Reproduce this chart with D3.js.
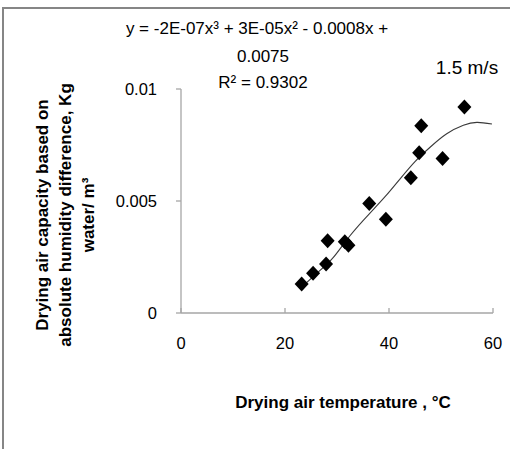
<!DOCTYPE html>
<html>
<head>
    <meta charset="utf-8">
    <title>Drying air capacity vs temperature</title>
    <script src="https://d3js.org/d3.v7.min.js"></script>
    <style>
        body { margin: 0; background: #fff; }
        text { font-family: "Liberation Sans", Arial, sans-serif; fill: #000; }
    </style>
</head>
<body>
<svg width="510" height="449"></svg>
<script>
    // data
    const temps = [23.2, 25.4, 27.9, 28.2, 31.5, 32.2, 36.2, 39.4, 44.2, 45.8, 46.2, 50.3, 54.5];
    const capacity = [0.00129, 0.00177, 0.00219, 0.00322, 0.00318, 0.00303, 0.00489, 0.00418, 0.00604, 0.00715, 0.00836, 0.0069, 0.0092];
    // polynomial trendline as drawn (the printed coefficients are rounded)
    const trendX = [23.5, 26.5, 29.3, 32.5, 36.3, 39.2, 42.1, 45.0, 47.9, 51.1, 54.3, 56.9, 59.8];
    const trendY = [0.00122, 0.00185, 0.00248, 0.00345, 0.00445, 0.00518, 0.00598, 0.00676, 0.00740, 0.00800, 0.00838, 0.00851, 0.00844];
    const xTicks = [0, 20, 40, 60];
    const yTicks = [0, 0.005, 0.01];
    const eqLines = ["y = -2E-07x³ + 3E-05x² - 0.0008x +", "0.0075", "R² = 0.9302"];
    const yTitle = ["Drying air capacity based on", "absolute humidity difference, Kg", "water/ m³"];

    const svg = d3.select("svg");

    // outer chart border (only left and top visible in the window)
    svg.append("rect")
        .attr("x", 3).attr("y", 8)
        .attr("width", 600).attr("height", 600)
        .attr("fill", "none")
        .attr("stroke", "#868686")
        .attr("stroke-width", 2);

    const x = d3.scaleLinear().domain([0, 60]).range([181, 493]);
    const y = d3.scaleLinear().domain([0, 0.01]).range([313, 89]);

    const g = svg.append("g");

    // axes
    g.append("line")
        .attr("x1", x(0)).attr("x2", x(60))
        .attr("y1", y(0)).attr("y2", y(0))
        .attr("stroke", "#a6a6a6").attr("stroke-width", 1.3);
    g.append("line")
        .attr("x1", x(0)).attr("x2", x(0))
        .attr("y1", y(0)).attr("y2", y(0.01))
        .attr("stroke", "#a6a6a6").attr("stroke-width", 1.3);

    g.selectAll(".xtick").data(xTicks).enter().append("line")
        .attr("class", "xtick")
        .attr("x1", d => x(d)).attr("x2", d => x(d))
        .attr("y1", y(0)).attr("y2", y(0) - 5)
        .attr("stroke", "#a6a6a6").attr("stroke-width", 1.3);
    g.selectAll(".ytick").data(yTicks).enter().append("line")
        .attr("class", "ytick")
        .attr("x1", x(0) - 5).attr("x2", x(0))
        .attr("y1", d => y(d)).attr("y2", d => y(d))
        .attr("stroke", "#a6a6a6").attr("stroke-width", 1.3);

    g.selectAll(".xlab").data(xTicks).enter().append("text")
        .attr("class", "xlab")
        .attr("x", d => x(d)).attr("y", y(0) + 36)
        .attr("text-anchor", "middle")
        .attr("font-size", 16.5)
        .text(d => d);
    g.selectAll(".ylab").data(yTicks).enter().append("text")
        .attr("class", "ylab")
        .attr("x", x(0) - 24).attr("y", d => y(d) + 6)
        .attr("text-anchor", "end")
        .attr("font-size", 16.5)
        .text(d => d);

    // trendline
    g.append("path")
        .datum(trendX.map((t, i) => [t, trendY[i]]))
        .attr("fill", "none")
        .attr("stroke", "#3a3a3a")
        .attr("stroke-width", 1.1)
        .attr("d", d3.line().curve(d3.curveNatural).x(d => x(d[0])).y(d => y(d[1])));

    // diamonds
    g.selectAll(".pt").data(temps).enter().append("path")
        .attr("class", "pt")
        .attr("transform", (d, i) => `translate(${x(d)},${y(capacity[i])})`)
        .attr("d", "M0,-7.5L7,0L0,7.5L-7,0Z")
        .attr("fill", "#000");

    // equation text
    g.selectAll(".eq").data(eqLines).enter().append("text")
        .attr("class", "eq")
        .attr("x", (d, i) => i === 0 ? 257 : 263)
        .attr("y", (d, i) => [34, 62, 88][i])
        .attr("text-anchor", "middle")
        .attr("font-size", 17)
        .text(d => d);

    g.append("text")
        .attr("x", 467).attr("y", 74)
        .attr("text-anchor", "middle")
        .attr("font-size", 19)
        .text("1.5 m/s");

    // axis titles
    g.append("text")
        .attr("x", 343).attr("y", 408)
        .attr("text-anchor", "middle")
        .attr("font-size", 17)
        .attr("font-weight", "bold")
        .text("Drying air temperature , °C");

    const yt = g.append("text")
        .attr("transform", "translate(65,215) rotate(-90)")
        .attr("text-anchor", "middle")
        .attr("font-size", 17)
        .attr("font-weight", "bold");
    yt.selectAll("tspan").data(yTitle).enter().append("tspan")
        .attr("x", 0)
        .attr("y", (d, i) => (i - 1) * 23 + 6)
        .text(d => d);
</script>
</body>
</html>
